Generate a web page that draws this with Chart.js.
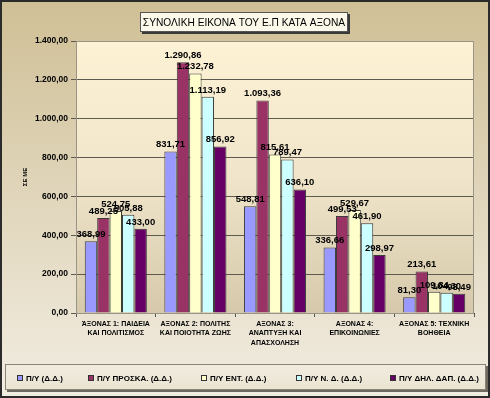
<!DOCTYPE html>
<html>
<head>
<meta charset="utf-8">
<script src="https://cdn.jsdelivr.net/npm/chart.js@4.4.0/dist/chart.umd.min.js"></script>
<style>
html, body { margin: 0; padding: 0; background: #fff; }
canvas { display: block; }
</style>
</head>
<body>
<canvas id="chart" width="490" height="398"></canvas>
<script>
// δεδομένα
const chartTitle = 'ΣΥΝΟΛΙΚΗ ΕΙΚΟΝΑ ΤΟΥ Ε.Π ΚΑΤΑ ΑΞΟΝΑ';
const yTitle = 'ΣΕ ΜΕ';
const categories = [
    ['ΆΞΟΝΑΣ 1: ΠΑΙΔΕΙΑ', 'ΚΑΙ ΠΟΛΙΤΙΣΜΟΣ'],
    ['ΑΞΟΝΑΣ 2: ΠΟΛΙΤΗΣ', 'ΚΑΙ ΠΟΙΟΤΗΤΑ ΖΩΗΣ'],
    ['ΑΞΟΝΑΣ 3:', 'ΑΝΑΠΤΥΞΗ ΚΑΙ', 'ΑΠΑΣΧΟΛΗΣΗ'],
    ['ΑΞΟΝΑΣ 4:', 'ΕΠΙΚΟΙΝΩΝΙΕΣ'],
    ['ΑΞΟΝΑΣ 5: ΤΕΧΝΙΚΗ', 'ΒΟΗΘΕΙΑ']
];
const seriesNames = ['Π/Υ (Δ.Δ.)', 'Π/Υ ΠΡΟΣΚΑ. (Δ.Δ.)', 'Π/Υ ΕΝΤ. (Δ.Δ.)', 'Π/Υ Ν. Δ. (Δ.Δ.)', 'Π/Υ ΔΗΛ. ΔΑΠ. (Δ.Δ.)'];
const budget = [368.99, 831.71, 548.81, 336.66, 81.30];
const budgetCalls = [489.25, 1290.86, 1093.36, 499.53, 213.61];
const budgetEnt = [524.75, 1232.78, 815.61, 529.67, 109.84];
const budgetNd = [505.88, 1113.19, 789.47, 461.90, 104.30];
const budgetDecl = [433.00, 856.92, 636.10, 298.97, 98.49];
const yMin = 0;
const yMax = 1400;
const yStep = 200;

// στυλ
const seriesColors = ['#9999FF', '#993366', '#FFFFCC', '#CCFFFF', '#660066'];
const legendX = [17, 88, 201, 296, 390];
const FONT = '"Liberation Sans", Arial, sans-serif';

// αριθμοί με ελληνική μορφή
function fmt(v) {
    const parts = v.toFixed(2).split('.');
    return parts[0].replace(/\B(?=(\d{3})+(?!\d))/g, '.') + ',' + parts[1];
}

// φόντο, πλαίσια, τίτλος
const framePlugin = {
    id: 'frame',
    beforeDraw(chart) {
        const ctx = chart.ctx;
        const w = chart.width, h = chart.height;
        const a = chart.chartArea;
        ctx.save();
        let g = ctx.createLinearGradient(0, 0, 0, h);
        g.addColorStop(0, '#cfbf95');
        g.addColorStop(1, '#f2ede2');
        ctx.fillStyle = g;
        ctx.fillRect(0, 0, w, h);

        g = ctx.createLinearGradient(0, a.top, 0, a.bottom);
        g.addColorStop(0, '#fef2d5');
        g.addColorStop(0.5, '#f0e5ca');
        g.addColorStop(1, '#d6c9ab');
        ctx.fillStyle = g;
        ctx.fillRect(a.left, a.top, a.right - a.left, a.bottom - a.top);
        ctx.restore();
    },
    afterDraw(chart) {
        const ctx = chart.ctx;
        const w = chart.width, h = chart.height;
        const a = chart.chartArea;
        ctx.save();
        // πλαίσιο περιοχής σχεδίασης
        ctx.strokeStyle = '#9a9486';
        ctx.lineWidth = 1;
        ctx.strokeRect(a.left + 0.5, a.top + 0.5, a.right - a.left - 1, a.bottom - a.top);

        // τίτλος
        ctx.font = '10.2px ' + FONT;
        const tw = ctx.measureText(chartTitle).width;
        const bx = 140, by = 12, bw = 208, bh = 20;
        ctx.fillStyle = '#3a3a3a';
        ctx.fillRect(bx + 2, by + 2, bw, bh);
        ctx.fillStyle = '#fdf9ea';
        ctx.fillRect(bx, by, bw, bh);
        ctx.strokeStyle = '#555';
        ctx.strokeRect(bx + 0.5, by + 0.5, bw - 1, bh - 1);
        ctx.fillStyle = '#000';
        ctx.textAlign = 'center';
        ctx.textBaseline = 'middle';
        ctx.fillText(chartTitle, bx + bw / 2, by + bh / 2 + 1, bw - 4);

        // υπόμνημα
        const lx = 5, ly = 364, lw = 481, lh = 26;
        ctx.fillStyle = '#6f6a60';
        ctx.fillRect(lx + 2, ly + 2, lw, lh);
        let g = ctx.createLinearGradient(0, ly, 0, ly + lh);
        g.addColorStop(0, '#f1ece0');
        g.addColorStop(1, '#ebe4d2');
        ctx.fillStyle = g;
        ctx.fillRect(lx, ly, lw, lh);
        ctx.strokeStyle = '#8a8478';
        ctx.strokeRect(lx + 0.5, ly + 0.5, lw - 1, lh - 1);
        ctx.font = 'bold 8px ' + FONT;
        ctx.textAlign = 'left';
        chart.data.datasets.forEach((ds, i) => {
            const x = legendX[i], y = 378;
            ctx.fillStyle = ds.backgroundColor;
            ctx.fillRect(x, y - 3, 6, 6);
            ctx.strokeStyle = '#333';
            ctx.strokeRect(x + 0.5, y - 2.5, 5, 5);
            ctx.fillStyle = '#000';
            ctx.fillText(ds.label, x + 9, y + 0.5);
        });

        // εξωτερικό περίγραμμα
        ctx.strokeStyle = '#2b2b2b';
        ctx.lineWidth = 2;
        ctx.strokeRect(1, 1, w - 2, h - 2);
        ctx.restore();
    }
};

// ετικέτες τιμών πάνω από τις μπάρες
const valueLabels = {
    id: 'valueLabels',
    afterDatasetsDraw(chart) {
        const ctx = chart.ctx;
        ctx.save();
        ctx.font = 'bold 9.5px ' + FONT;
        ctx.fillStyle = '#000';
        ctx.textAlign = 'center';
        ctx.textBaseline = 'bottom';
        chart.data.datasets.forEach((ds, i) => {
            chart.getDatasetMeta(i).data.forEach((bar, j) => {
                ctx.fillText(fmt(ds.data[j]), bar.x, bar.y - 2);
            });
        });
        ctx.restore();
    }
};

const allSeries = [budget, budgetCalls, budgetEnt, budgetNd, budgetDecl];

new Chart(document.getElementById('chart'), {
    type: 'bar',
    data: {
        labels: categories,
        datasets: allSeries.map((values, i) => ({
            label: seriesNames[i],
            data: values,
            backgroundColor: seriesColors[i],
            borderColor: '#3c3c3c',
            borderWidth: 1,
            borderSkipped: 'bottom',
            categoryPercentage: 0.78,
            barPercentage: 1
        }))
    },
    options: {
        responsive: false,
        animation: false,
        layout: { padding: { top: 41, left: 18, right: 16, bottom: 35 } },
        plugins: {
            legend: { display: false },
            title: { display: false },
            tooltip: { enabled: false }
        },
        scales: {
            x: {
                grid: { drawOnChartArea: false, drawTicks: true, tickLength: 4, color: '#555' },
                border: { color: '#444', width: 1 },
                ticks: {
                    color: '#000',
                    font: { family: FONT, size: 7, weight: 'bold', lineHeight: 1.35 },
                    maxRotation: 0,
                    autoSkip: false,
                    padding: 2
                },
                afterFit(scale) { scale.height = 50; }
            },
            y: {
                min: yMin,
                max: yMax,
                grid: { color: '#5e5a50', lineWidth: 1, tickLength: 5 },
                border: { color: '#444', width: 1 },
                ticks: {
                    stepSize: yStep,
                    color: '#000',
                    padding: 3,
                    font: { family: FONT, size: 8.5, weight: 'bold' },
                    callback: v => fmt(v)
                },
                title: {
                    display: true,
                    text: yTitle,
                    color: '#000',
                    font: { family: FONT, size: 6, weight: 'bold' },
                    padding: { top: 4, bottom: 0 }
                },
                afterFit(scale) { scale.width = 58; }
            }
        }
    },
    plugins: [framePlugin, valueLabels]
});
</script>
</body>
</html>
